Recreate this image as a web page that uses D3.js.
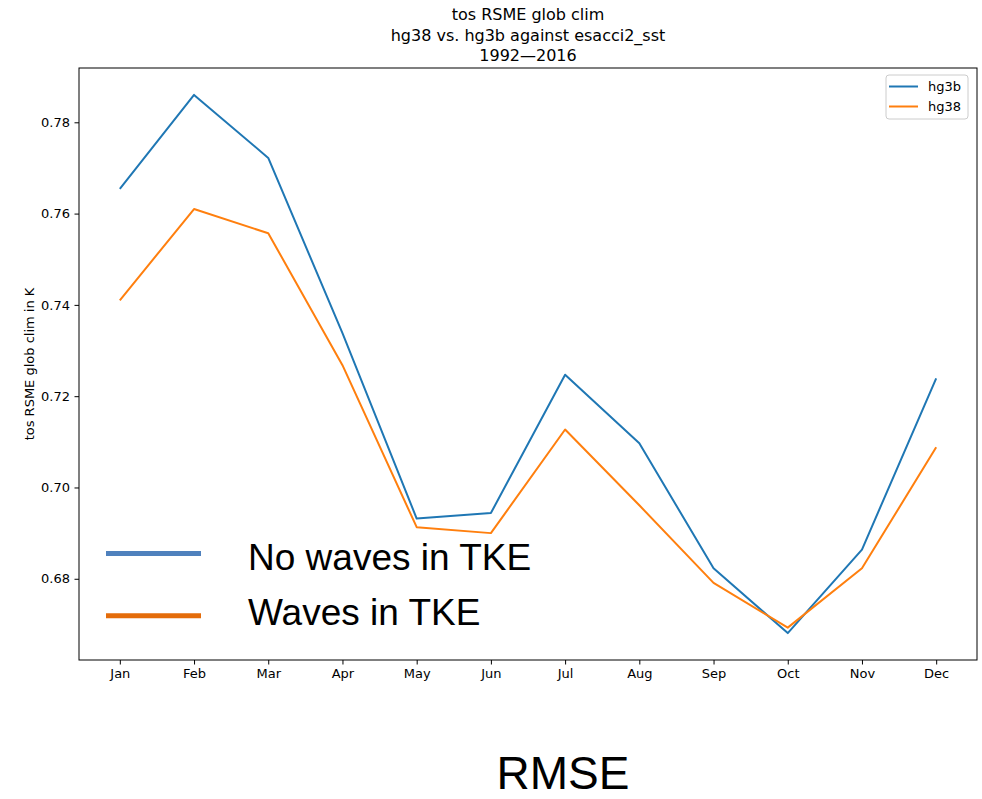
<!DOCTYPE html>
<html>
<head>
<meta charset="utf-8">
<script src="https://cdn.jsdelivr.net/npm/d3@7"></script>
<style>
  html, body { margin: 0; padding: 0; background: #fff; }
  svg { display: block; }
</style>
</head>
<body>
<svg id="chart" width="982" height="799"></svg>
<script>
const months = ["Jan","Feb","Mar","Apr","May","Jun","Jul","Aug","Sep","Oct","Nov","Dec"];
const hg3b = [0.7654, 0.7860, 0.7722, 0.7338, 0.6932, 0.6944, 0.7247, 0.7097, 0.6823, 0.6681, 0.6864, 0.7239];
const hg38 = [0.7410, 0.7610, 0.7557, 0.7268, 0.6913, 0.6900, 0.7127, 0.6961, 0.6791, 0.6693, 0.6823, 0.7088];
const yTicks = [0.68, 0.70, 0.72, 0.74, 0.76, 0.78];
const seriesNames = ["hg3b", "hg38"];
const seriesColors = ["#1f77b4", "#ff7f0e"];
const overlayLabels = ["No waves in TKE", "Waves in TKE"];
const overlayColors = ["#4f81bd", "#e46c0a"];
const titleLines = ["tos RSME glob clim", "hg38 vs. hg3b against esacci2_sst", "1992\u20142016"];
const yLabel = "tos RSME glob clim in K";
const caption = "RMSE";

const svg = d3.select("#chart");
const L = 79, R = 977, T = 68, B = 660;

const all = hg3b.concat(hg38);
const mn = d3.min(all), mx = d3.max(all), pad = (mx - mn) * 0.05;
const y = d3.scaleLinear().domain([mn - pad, mx + pad]).range([B, T]);
const x = d3.scaleLinear().domain([-0.55, 11.55]).range([L, R]);

const font = "DejaVu Sans, sans-serif";

// axes
const yAxis = d3.axisLeft(y).tickValues(yTicks).tickFormat(d3.format(".2f")).tickSize(4.5).tickPadding(4.5);
const gy = svg.append("g").attr("transform", `translate(${L},0)`).call(yAxis);
gy.select(".domain").remove();
gy.selectAll("text").attr("font-family", font).attr("font-size", 13).attr("fill", "#000");
gy.selectAll("line").attr("stroke", "#000").attr("stroke-width", 1);

const xAxis = d3.axisBottom(x).tickValues(d3.range(12)).tickFormat(i => months[i]).tickSize(4.5).tickPadding(4.5);
const gx = svg.append("g").attr("transform", `translate(0,${B})`).call(xAxis);
gx.select(".domain").remove();
gx.selectAll("text").attr("font-family", font).attr("font-size", 13).attr("fill", "#000");
gx.selectAll("line").attr("stroke", "#000").attr("stroke-width", 1);

// lines
const line = d3.line().x((d, i) => x(i)).y(d => y(d));
[hg3b, hg38].forEach((s, k) => {
  svg.append("path").datum(s).attr("d", line).attr("fill", "none")
    .attr("stroke", seriesColors[k]).attr("stroke-width", 2).attr("stroke-linejoin", "round");
});

// frame
svg.append("rect").attr("x", L).attr("y", T).attr("width", R - L).attr("height", B - T)
  .attr("fill", "none").attr("stroke", "#000").attr("stroke-width", 1);

// title
titleLines.forEach((t, i) => {
  svg.append("text").attr("x", (L + R) / 2).attr("y", 20 + i * 20.5).attr("text-anchor", "middle")
    .attr("font-family", font).attr("font-size", 16).attr("fill", "#000").text(t);
});

// y label
svg.append("text").attr("transform", `translate(33.5,${(T + B) / 2}) rotate(-90)`)
  .attr("text-anchor", "middle").attr("font-family", font).attr("font-size", 13).attr("fill", "#000").text(yLabel);

// matplotlib legend
const lg = svg.append("g");
lg.append("rect").attr("x", 886).attr("y", 75).attr("width", 82).attr("height", 44).attr("rx", 3)
  .attr("fill", "#fff").attr("fill-opacity", 0.8).attr("stroke", "#ccc").attr("stroke-width", 1);
seriesNames.forEach((n, i) => {
  const yy = 86.5 + i * 20;
  lg.append("line").attr("x1", 889).attr("x2", 918).attr("y1", yy).attr("y2", yy)
    .attr("stroke", seriesColors[i]).attr("stroke-width", 2);
  lg.append("text").attr("x", 928).attr("y", yy + 4.5).attr("font-family", font).attr("font-size", 13)
    .attr("fill", "#000").text(n);
});

// overlay legend with shadows
const defs = svg.append("defs");
const f = defs.append("filter").attr("id", "shadow").attr("x", "-10%").attr("y", "-200%").attr("width", "130%").attr("height", "500%");
f.append("feGaussianBlur").attr("stdDeviation", 1.5);

overlayLabels.forEach((t, i) => {
  const yy = 553.5 + i * 62.3;
  svg.append("line").attr("x1", 107).attr("x2", 201).attr("y1", yy + 3.5).attr("y2", yy + 3.5)
    .attr("stroke", "#888").attr("stroke-opacity", 0.7).attr("stroke-width", 5).attr("filter", "url(#shadow)");
  svg.append("line").attr("x1", 106).attr("x2", 201).attr("y1", yy).attr("y2", yy)
    .attr("stroke", overlayColors[i]).attr("stroke-width", 5);
  svg.append("text").attr("x", 248).attr("y", 569.5 + i * 55.5)
    .attr("font-family", "Liberation Sans, Arial, sans-serif").attr("font-size", 37).attr("fill", "#000").text(t);
});

svg.append("text").attr("x", 563).attr("y", 789).attr("text-anchor", "middle")
  .attr("font-family", "Liberation Sans, Arial, sans-serif").attr("font-size", 46).attr("fill", "#000").text(caption);
</script>
</body>
</html>
